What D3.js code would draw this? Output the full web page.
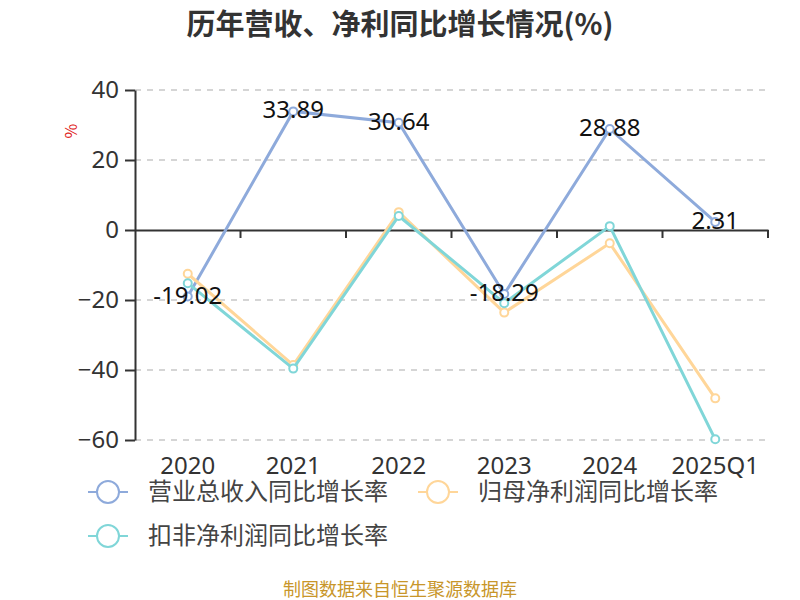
<!DOCTYPE html>
<html><head><meta charset="utf-8">
<script src="https://cdn.jsdelivr.net/npm/d3@7"></script>
<style>body{margin:0;background:#fff;}svg{display:block;font-family:"Noto Sans CJK SC","Noto Sans",sans-serif;}</style>
</head><body><svg id="c" width="800" height="600"></svg>
<script>
const categories = ["2020","2021","2022","2023","2024","2025Q1"];
const revenueGrowth = [-19.02, 33.89, 30.64, -18.29, 28.88, 2.31];
const netProfitGrowth = [-12.5, -38.6, 5.1, -23.6, -3.8, -48.1];
const deductedProfitGrowth = [-15.2, -39.6, 4.0, -20.9, 1.1, -59.8];
const yTicks = [40, 20, 0, -20, -40, -60];
const seriesNames = ["营业总收入同比增长率","归母净利润同比增长率","扣非净利润同比增长率"];
const colors = ["#8eaadb","#ffd699","#80d6d8"];

const svg = d3.select("#c");
const x = d3.scaleBand().domain(categories).range([135, 768]);
const y = d3.scaleLinear().domain([-60, 40]).range([440, 90]);
const numFont = "'Noto Sans',sans-serif";

svg.append("text").attr("x", 400).attr("y", 35).attr("text-anchor","middle")
  .attr("font-size", 29).attr("font-weight","bold").attr("fill","#333")
  .text("历年营收、净利同比增长情况(%)");

// grid
svg.append("g").selectAll("line").data(yTicks.filter(d=>d!==0)).join("line")
  .attr("x1",135).attr("x2",768).attr("y1",d=>y(d)).attr("y2",d=>y(d))
  .attr("stroke","#c8c8c8").attr("stroke-width",1.5).attr("stroke-dasharray","6,6");

// y axis
const yAxis = svg.append("g").attr("transform","translate(135,0)")
  .call(d3.axisLeft(y).tickValues(yTicks).tickSize(10).tickPadding(6).tickSizeOuter(0));
yAxis.select(".domain").attr("stroke","#333").attr("stroke-width",2);
yAxis.selectAll(".tick line").attr("stroke","#333").attr("stroke-width",2);
yAxis.selectAll(".tick text").attr("font-size",24).attr("fill","#333").attr("font-family",numFont);

// x axis at 0
const xAxis = svg.append("g").attr("transform",`translate(0,${y(0)})`)
  .call(d3.axisBottom(x).tickSize(0).tickSizeOuter(0));
xAxis.select(".domain").attr("stroke","#333").attr("stroke-width",2);
xAxis.selectAll(".tick text").remove();
xAxis.selectAll(".tick line").remove();
svg.append("g").selectAll("line").data(categories).join("line")
  .attr("x1",d=>x(d)+x.bandwidth()).attr("x2",d=>x(d)+x.bandwidth())
  .attr("y1",y(0)).attr("y2",y(0)+8).attr("stroke","#333").attr("stroke-width",2);
svg.append("g").selectAll("text").data(categories).join("text")
  .attr("x",d=>x(d)+x.bandwidth()/2).attr("y",474).attr("text-anchor","middle")
  .attr("font-size",24).attr("fill","#333").attr("font-family",numFont).text(d=>d);

svg.append("text").attr("transform","translate(77,131) rotate(-90)").attr("text-anchor","middle")
  .attr("font-size",16).attr("fill","#e02020").text("%");

const data = [revenueGrowth, netProfitGrowth, deductedProfitGrowth];
const line = d3.line().x((d,i)=>x(categories[i])+x.bandwidth()/2).y(d=>y(d));
data.forEach((s,k)=>{
  svg.append("path").datum(s).attr("d",line).attr("fill","none")
    .attr("stroke",colors[k]).attr("stroke-width",3);
  svg.append("g").selectAll("circle").data(s).join("circle")
    .attr("cx",(d,i)=>x(categories[i])+x.bandwidth()/2).attr("cy",d=>y(d)).attr("r",4)
    .attr("fill","#fff").attr("stroke",colors[k]).attr("stroke-width",2);
});

svg.append("g").selectAll("text").data(revenueGrowth).join("text")
  .attr("x",(d,i)=>x(categories[i])+x.bandwidth()/2).attr("y",d=>y(d)+7)
  .attr("text-anchor","middle").attr("font-size",24).attr("fill","#111")
  .attr("font-family",numFont).text(d=>d.toFixed(2));

// legend
const legPos = [[88,492],[418,492],[88,536]];
seriesNames.forEach((n,k)=>{
  const [lx,ly] = legPos[k];
  const g = svg.append("g");
  g.append("line").attr("x1",lx).attr("x2",lx+40).attr("y1",ly).attr("y2",ly)
    .attr("stroke",colors[k]).attr("stroke-width",2);
  g.append("circle").attr("cx",lx+20).attr("cy",ly).attr("r",11)
    .attr("fill","#fff").attr("stroke",colors[k]).attr("stroke-width",2);
  g.append("text").attr("x",lx+60).attr("y",ly+8).attr("font-size",24).attr("fill","#444").text(n);
});

svg.append("text").attr("x",400).attr("y",596).attr("text-anchor","middle")
  .attr("font-size",18).attr("fill","#c8962a").text("制图数据来自恒生聚源数据库");
</script></body></html>
